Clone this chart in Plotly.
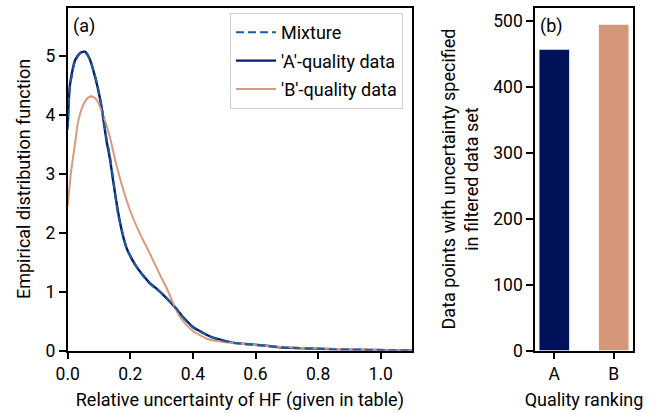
import plotly.graph_objects as go
from plotly.subplots import make_subplots

# ---- data ----
x_a = [0, 0.007, 0.023, 0.04, 0.055, 0.07, 0.082, 0.095, 0.108, 0.124, 0.135, 0.146, 0.161,
       0.175, 0.188, 0.205, 0.22, 0.24, 0.263, 0.284, 0.31, 0.342, 0.37, 0.40, 0.422, 0.45,
       0.476, 0.53, 0.58, 0.635, 0.69, 0.74, 0.80, 0.85, 0.90, 0.96, 1.02, 1.1]
y_a = [3.8, 4.5, 4.92, 5.05, 5.07, 4.95, 4.75, 4.48, 4.13, 3.56, 3.25, 2.85, 2.35,
       1.98, 1.74, 1.55, 1.42, 1.28, 1.14, 1.05, 0.92, 0.74, 0.56, 0.40, 0.33, 0.25,
       0.20, 0.13, 0.105, 0.08, 0.05, 0.04, 0.03, 0.02, 0.015, 0.01, 0.006, 0.003]
y_mix = [3.75, 4.45, 4.9, 5.04, 5.06, 4.95, 4.76, 4.5, 4.16, 3.6, 3.3, 2.88, 2.3,
         2.0, 1.74, 1.56, 1.42, 1.27, 1.13, 1.04, 0.92, 0.74, 0.55, 0.39, 0.32, 0.245,
         0.195, 0.13, 0.105, 0.08, 0.05, 0.04, 0.03, 0.02, 0.015, 0.01, 0.006, 0.003]
x_b = [0, 0.01, 0.023, 0.034, 0.05, 0.065, 0.079, 0.095, 0.108, 0.122, 0.135, 0.151, 0.172,
       0.199, 0.231, 0.263, 0.295, 0.316, 0.342, 0.36, 0.38, 0.40, 0.422, 0.444, 0.476,
       0.52, 0.58, 0.64, 0.70, 0.76, 0.82, 0.9, 1.0, 1.1]
y_b = [2.45, 3.0, 3.5, 3.9, 4.17, 4.29, 4.31, 4.23, 4.07, 3.85, 3.62, 3.25, 2.83,
       2.38, 1.98, 1.64, 1.28, 1.06, 0.74, 0.56, 0.43, 0.33, 0.26, 0.20, 0.16,
       0.13, 0.10, 0.075, 0.055, 0.04, 0.03, 0.02, 0.01, 0.005]

quality = ["A", "B"]
counts = [456, 494]

C_MIX = "#1a5e9e"
C_A = "#0a1a6e"
C_B = "#D99B7C"
BAR_COLORS = ["#00125A", "#D4977A"]

FONT = "Roboto"
FS = 18
FT = 17.5

fig = make_subplots(rows=1, cols=2)

fig.add_trace(go.Scatter(x=x_a, y=y_a, mode="lines", name="'A'-quality data", legendgroup="a",
                         legendrank=2,
                         line=dict(color=C_A, width=2.4, shape="spline", smoothing=0.6)),
              row=1, col=1)
fig.add_trace(go.Scatter(x=x_b, y=y_b, mode="lines", name="'B'-quality data", legendgroup="b",
                         legendrank=3,
                         line=dict(color=C_B, width=2, shape="spline", smoothing=0.6)),
              row=1, col=1)
fig.add_trace(go.Scatter(x=x_a, y=y_mix, mode="lines", name="Mixture", legendgroup="m",
                         legendrank=1,
                         line=dict(color=C_MIX, width=2, dash="8px,4px", shape="spline", smoothing=0.6)),
              row=1, col=1)
fig.add_trace(go.Bar(x=quality, y=counts, width=0.5, marker=dict(color=BAR_COLORS, line=dict(width=0)),
                     showlegend=False),
              row=1, col=2)

axis_common = dict(showline=True, linecolor="black", linewidth=1.5, mirror=True,
                   ticks="outside", ticklen=7, tickwidth=1.5, tickcolor="black",
                   showgrid=False, zeroline=False,
                   tickfont=dict(family=FONT, size=FT, color="black"),
                   automargin=False)

fig.update_layout(
    width=654, height=413,
    margin=dict(l=0, r=0, t=0, b=0),
    paper_bgcolor="white", plot_bgcolor="white",
    font=dict(family=FONT, size=FS, color="black"),
    xaxis=dict(domain=[67.7 / 654, 412 / 654], range=[0, 1.1], tickvals=[0, 0.2, 0.4, 0.6, 0.8, 1.0],
               tickformat=".1f",
               title=dict(text="Relative uncertainty of HF (given in table)", standoff=10,
                          font=dict(family=FONT, size=FS)),
               **axis_common),
    yaxis=dict(domain=[62.5 / 413, 405.5 / 413], range=[0, 5.82], tickvals=[0, 1, 2, 3, 4, 5],
               title=dict(text="Empirical distribution function", standoff=10,
                          font=dict(family=FONT, size=FS)),
               **axis_common),
    xaxis2=dict(domain=[535 / 654, 633 / 654], range=[-0.325, 1.325], type="category",
                title=dict(text="Quality ranking", standoff=10, font=dict(family=FONT, size=FS)),
                **axis_common),
    yaxis2=dict(domain=[62.5 / 413, 405.5 / 413], range=[0, 520], tickvals=[0, 100, 200, 300, 400, 500],
                title=dict(text="Data points with uncertainty specified<br>in filtered data set",
                           standoff=10, font=dict(family=FONT, size=FS)),
                **axis_common),
    legend=dict(x=403 / 654, y=1 - 13 / 413, xanchor="right", yanchor="top",
                bgcolor="rgba(255,255,255,0.9)", bordercolor="#d0d0d0", borderwidth=1,
                font=dict(family=FONT, size=FS), tracegroupgap=2, itemwidth=40),
    annotations=[
        dict(text="(a)", x=0.0, y=5.82, xref="x", yref="y", xanchor="left", yanchor="top",
             xshift=3, yshift=-6, showarrow=False, font=dict(family=FONT, size=FS)),
        dict(text="(b)", x=-0.325, y=520, xref="x2", yref="y2", xanchor="left", yanchor="top",
             xshift=3, yshift=-6, showarrow=False, font=dict(family=FONT, size=FS)),
    ],
)

fig.write_html("out.html", config={"displayModeBar": False},
               post_script="document.body.style.margin='0';")
